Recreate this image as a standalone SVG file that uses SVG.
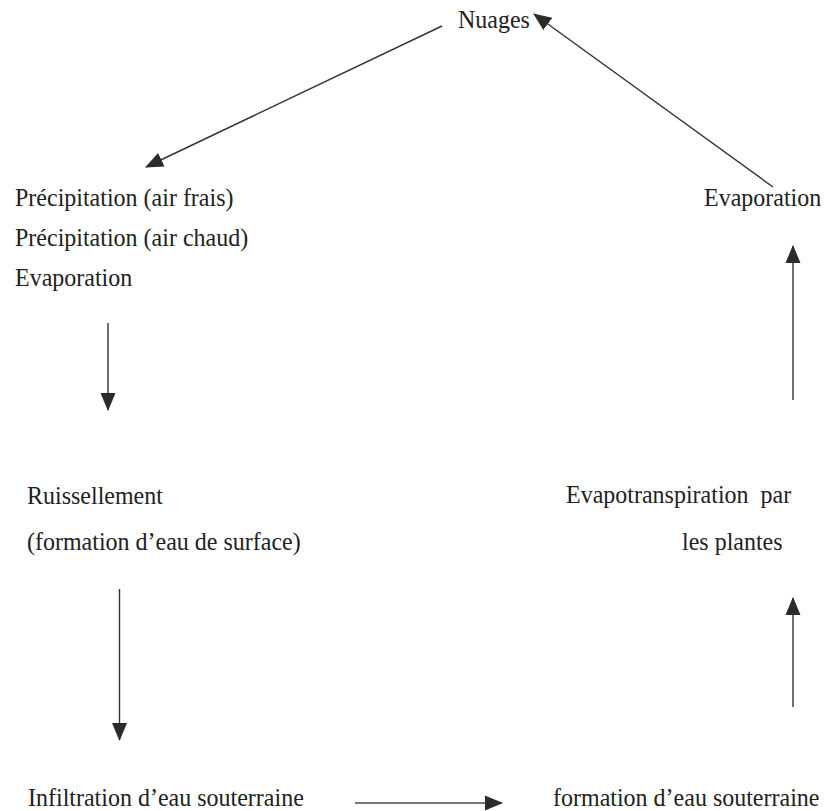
<svg xmlns="http://www.w3.org/2000/svg" width="826" height="811" viewBox="0 0 826 811">
<style>
text{font-family:'Liberation Serif','DejaVu Serif',serif;font-size:24px;fill:#222;}
.c line{stroke:#333;stroke-width:1.4;fill:none;marker-end:url(#ah);}
.c line.g{stroke:#777;stroke-width:2.2;}
</style>
<defs>
<marker id="ah" markerUnits="userSpaceOnUse" markerWidth="18" markerHeight="16" viewBox="0 0 18 16" refX="17" refY="8" orient="auto">
<path d="M0,0.5 L18,8 L0,15.5 z" fill="#2b2b2b"/>
</marker>
</defs>
<rect width="826" height="811" fill="#fff"/>
<g font-family="'Liberation Serif', serif" font-size="24">
<g id="nuages"><text transform="translate(458,28) scale(1,1.08)">Nuages</text></g>
<g id="precipitation">
<text transform="translate(15,206) scale(1,1.08)">Précipitation (air frais)</text>
<text transform="translate(15,246) scale(1,1.08)">Précipitation (air chaud)</text>
<text transform="translate(15,286) scale(1,1.08)">Evaporation</text>
</g>
<g id="evaporation"><text transform="translate(704,206) scale(1,1.08)">Evaporation</text></g>
<g id="ruissellement">
<text transform="translate(27,504) scale(1,1.08)">Ruissellement</text>
<text transform="translate(27,550) scale(1,1.08)">(formation d’eau de surface)</text>
</g>
<g id="evapotranspiration">
<text transform="translate(566,503) scale(1,1.08)" xml:space="preserve">Evapotranspiration  par</text>
<text transform="translate(682,550) scale(1,1.08)">les plantes</text>
</g>
<g id="infiltration"><text transform="translate(28,806) scale(1,1.08)">Infiltration d’eau souterraine</text></g>
<g id="formation"><text transform="translate(553,806) scale(1,1.08)">formation d’eau souterraine</text></g>
</g>
<g id="connectors" class="c">
<line x1="442" y1="26" x2="146" y2="167"/>
<line x1="773" y1="187" x2="534" y2="14"/>
<line x1="108" y1="323" x2="108" y2="410"/>
<line x1="793" y1="400" x2="793" y2="246"/>
<line x1="119.5" y1="589" x2="119.5" y2="740"/>
<line x1="793" y1="707" x2="793" y2="598"/>
<line class="g" x1="355" y1="803" x2="502" y2="803"/>
</g>
</svg>
